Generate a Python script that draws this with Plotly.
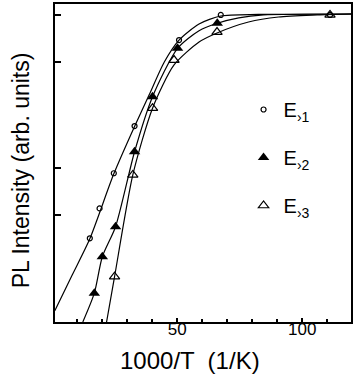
import plotly.graph_objects as go

# ---- data ----
# measured points, x = 1000/T (1/K), y = PL intensity (arb. units, log scale)
e1_x = [15.0, 18.9, 24.6, 32.9, 50.7, 67.4, 111.1]
e1_y = [6.16, 11.8, 25.3, 70.6, 457, 788, 788]

e2_x = [16.8, 20.0, 25.3, 32.9, 40.1, 50.1, 66.0]
e2_y = [1.87, 4.13, 7.93, 40.4, 133.5, 382, 658]

e3_x = [24.9, 32.2, 40.1, 48.7, 65.9, 111.1]
e3_y = [2.68, 24.4, 104, 296, 544, 788]

# fitted curves
fit1_x = [1.0, 8.0, 15.0, 24.6, 32.9, 38.8, 44.8, 50.7, 58.7, 67.4, 82.5, 119.5]
fit1_y = [1.28, 2.79, 6.1, 25.0, 70.0, 140, 284, 457, 648, 771, 797, 805]

fit2_x = [12.2, 16.8, 20.0, 25.3, 32.9, 40.1, 50.1, 58.7, 66.0, 74.6, 84.5, 119.5]
fit2_y = [1.0, 1.87, 4.13, 7.93, 40.4, 133.5, 382, 560, 658, 740, 788, 805]

fit3_x = [21.7, 24.9, 32.2, 40.1, 48.7, 58.7, 65.9, 78.5, 90.5, 106.0, 119.5]
fit3_y = [1.0, 2.68, 24.4, 104, 266, 438, 533, 676, 754, 788, 805]

series_names = ["E<sub>›1</sub>", "E<sub>›2</sub>", "E<sub>›3</sub>"]

x_major = [50, 100]
x_minor = [10, 20, 30, 40, 60, 70, 80, 90, 110]
x_top = [10, 20, 30, 40, 50, 60, 70, 80, 90, 100, 110]
y_left = [10.2, 28.4, 284, 788]
y_right_major = [10.0, 27.2, 284]
y_right_minor = [2.72, 4.88, 7.38, 14.2, 17.6, 24.4, 75.4, 133, 209, 368, 457, 568, 648]

XR = [1.07, 119.5]
YR = [0, 3.0]

fig = go.Figure()

for fx, fy in [(fit1_x, fit1_y), (fit2_x, fit2_y), (fit3_x, fit3_y)]:
    fig.add_trace(go.Scatter(x=fx, y=fy, mode="lines", showlegend=False,
                             line=dict(color="black", width=1.2, shape="spline", smoothing=0.7),
                             hoverinfo="skip"))

fig.add_trace(go.Scatter(x=e1_x, y=e1_y, mode="markers", name=series_names[0], legendgroup="a",
                         marker=dict(symbol="circle-open", size=5, color="black", line=dict(width=1.2))))
fig.add_trace(go.Scatter(x=e2_x, y=e2_y, mode="markers", name=series_names[1], legendgroup="b",
                         marker=dict(symbol="triangle-up", size=10, color="black")))
fig.add_trace(go.Scatter(x=e3_x, y=e3_y, mode="markers", name=series_names[2], legendgroup="c",
                         marker=dict(symbol="triangle-up-open", size=9, color="black", line=dict(width=1.2))))

font = "Liberation Sans, Arial, sans-serif"

fig.update_layout(
    width=355, height=379,
    margin=dict(l=55, r=2, t=4, b=57),
    plot_bgcolor="white", paper_bgcolor="white",
    font=dict(family=font, color="black", size=16),
    showlegend=True,
    legend=dict(x=0.637, y=(322 - 90) / 318, xanchor="left", yanchor="top",
                bgcolor="rgba(0,0,0,0)", borderwidth=0, tracegroupgap=19,
                font=dict(size=20, family=font), itemwidth=30),
    xaxis=dict(range=XR, showgrid=False, zeroline=False, showline=True, linecolor="black",
               linewidth=2, mirror=True, tickvals=x_major, ticks="inside", ticklen=4,
               tickwidth=1.5, tickcolor="black", tickfont=dict(size=17),
               ticklabelstandoff=-9,
               minor=dict(tickvals=x_minor, ticks="inside", ticklen=3, tickwidth=1.5,
                          tickcolor="black", showgrid=False)),
    xaxis2=dict(range=XR, overlaying="x", side="top", showgrid=False, zeroline=False,
                showline=False, tickvals=x_top, ticks="inside", ticklen=3, tickwidth=1.5,
                tickcolor="black", showticklabels=False),
    yaxis=dict(type="log", range=YR, showgrid=False, zeroline=False, showline=True,
               linecolor="black", linewidth=2, mirror=True, tickvals=y_left, ticks="inside",
               ticklen=6, tickwidth=1.5, tickcolor="black", showticklabels=False),
    yaxis2=dict(type="log", range=YR, overlaying="y", side="right", showgrid=False,
                zeroline=False, showline=False, tickvals=y_right_major, ticks="inside",
                ticklen=7, tickwidth=1.5, tickcolor="black", showticklabels=False,
                minor=dict(tickvals=y_right_minor, ticks="inside", ticklen=3, tickwidth=1.5,
                           tickcolor="black", showgrid=False)),
    annotations=[
        dict(text="1000/T  (1/K)", xref="paper", yref="paper", x=(191 - 55) / 298,
             y=(322 - 360) / 318, xanchor="center", yanchor="middle", showarrow=False,
             font=dict(size=24, family=font)),
        dict(text="PL Intensity (arb. units)", xref="paper", yref="paper", x=(21 - 55) / 298,
             y=(322 - 170) / 318, xanchor="center", yanchor="middle", showarrow=False,
             textangle=-90, font=dict(size=23, family=font)),
    ],
)

fig.write_html("out.html")
